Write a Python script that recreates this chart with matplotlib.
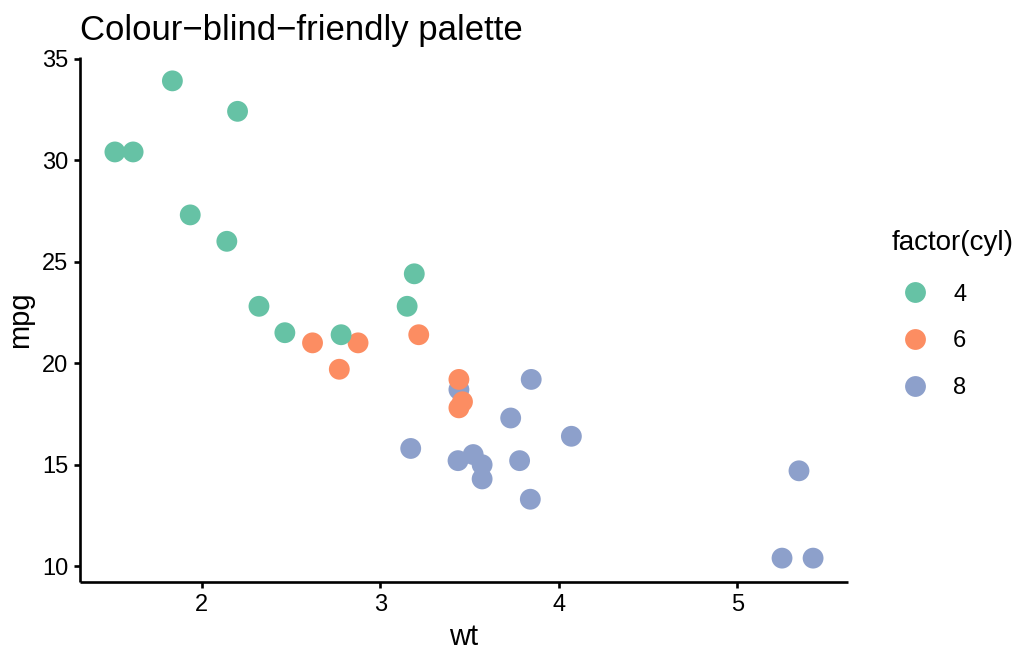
import matplotlib
matplotlib.use("Agg")
import matplotlib.pyplot as plt
from matplotlib.lines import Line2D

plt.rcParams['font.family'] = ['Liberation Sans', 'DejaVu Sans']

# mtcars: weight (1000 lbs), miles per gallon, cylinders
wt = [2.620, 2.875, 2.320, 3.215, 3.440, 3.460, 3.570, 3.190, 3.150, 3.440,
      3.440, 4.070, 3.730, 3.780, 5.250, 5.424, 5.345, 2.200, 1.615, 1.835,
      2.465, 3.520, 3.435, 3.840, 3.845, 1.935, 2.140, 1.513, 3.170, 2.770,
      3.570, 2.780]
mpg = [21.0, 21.0, 22.8, 21.4, 18.7, 18.1, 14.3, 24.4, 22.8, 19.2,
       17.8, 16.4, 17.3, 15.2, 10.4, 10.4, 14.7, 32.4, 30.4, 33.9,
       21.5, 15.5, 15.2, 13.3, 19.2, 27.3, 26.0, 30.4, 15.8, 19.7,
       15.0, 21.4]
cyl = [6, 6, 4, 6, 8, 6, 8, 4, 4, 6,
       6, 8, 8, 8, 8, 8, 8, 4, 4, 4,
       4, 8, 8, 8, 8, 4, 4, 4, 8, 6,
       8, 4]

levels = [4, 6, 8]
palette = {4: '#66C2A5', 6: '#FC8D62', 8: '#8DA0CB'}

W, H = 1020, 651
fig = plt.figure(figsize=(W / 100, H / 100), dpi=100)
ax = fig.add_axes([80 / W, 1 - 582 / H, (848 - 80) / W, (582 - 57) / H])

# points drawn in row order so overlaps stack like the data
ax.scatter(wt, mpg, s=225, c=[palette[c] for c in cyl], edgecolors='none', zorder=3)

# ggplot-style 5% expansion
def expand(vals, frac=0.05):
    lo, hi = min(vals), max(vals)
    pad = (hi - lo) * frac
    return lo - pad, hi + pad

ax.set_xlim(*expand(wt))
ax.set_ylim(*expand(mpg))
ax.set_xticks([2, 3, 4, 5])
ax.set_yticks([10, 15, 20, 25, 30, 35])

for side in ['top', 'right']:
    ax.spines[side].set_visible(False)
for side in ['left', 'bottom']:
    ax.spines[side].set_linewidth(1.9)
    ax.spines[side].set_capstyle('butt')
ax.tick_params(length=4.5, width=1.9, labelsize=17, colors='black', pad=4)

ax.set_xlabel('wt', fontsize=21, labelpad=5)
ax.set_ylabel('mpg', fontsize=21, labelpad=6)
ax.set_title('Colour\u2212blind\u2212friendly palette', fontsize=25, loc='left', pad=12)

handles = [Line2D([], [], linestyle='none', marker='o', markersize=15,
                  markerfacecolor=palette[lv], markeredgecolor='none')
           for lv in levels]
leg = fig.legend(handles, [str(lv) for lv in levels], title='factor(cyl)',
                 loc='upper left', bbox_to_anchor=(880 / W, 1 - 218 / H),
                 frameon=False, fontsize=17, title_fontsize=20,
                 handletextpad=0.6, labelspacing=1.05, borderpad=0,
                 handlelength=2.0)
leg._legend_box.align = 'left'
leg._legend_box.sep = 20

fig.savefig('out.png', dpi=100, facecolor='white')
